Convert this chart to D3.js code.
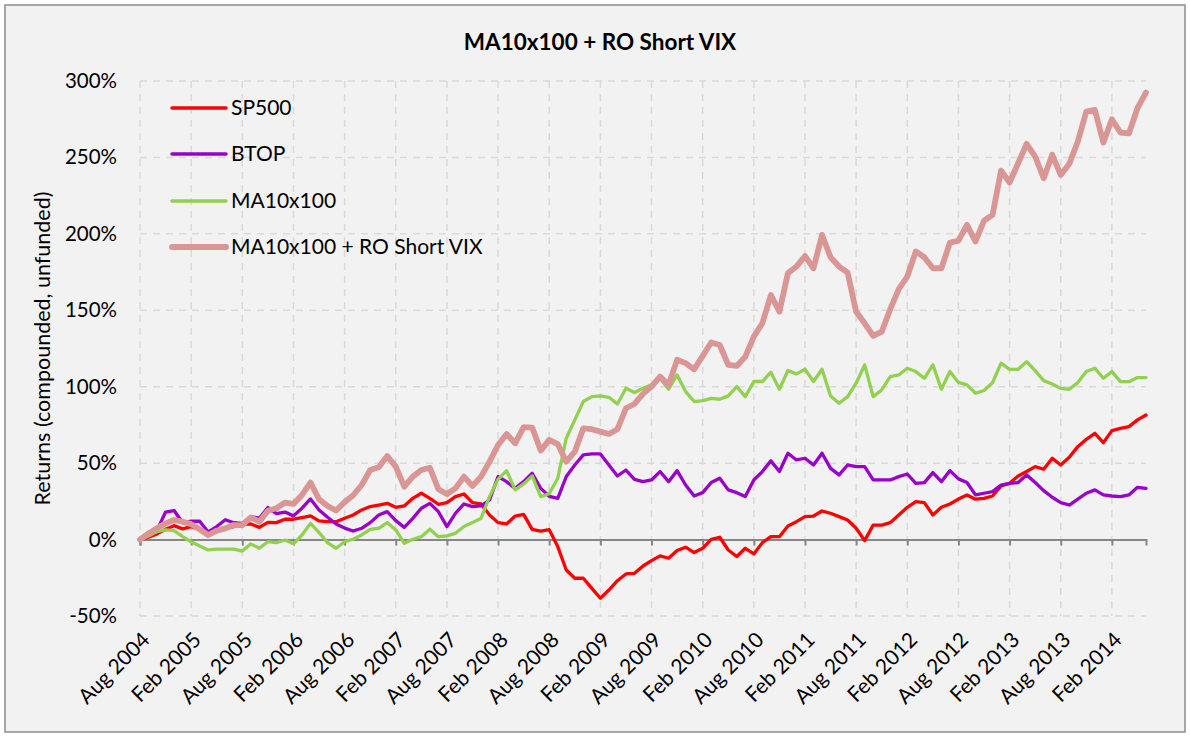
<!DOCTYPE html>
<html>
<head>
<meta charset="utf-8">
<script src="https://cdn.jsdelivr.net/npm/d3@7"></script>
<style>
  html, body { margin: 0; padding: 0; background: #ffffff; }
  svg { display: block; }
  text { font-family: Lato, "Open Sans", "DejaVu Sans", sans-serif; fill: #000; }
</style>
</head>
<body>
<svg id="chart" width="1190" height="736"></svg>
<script>
// ---------- DATA ----------
const startMonth = new Date(2004, 7, 1);   // Aug 2004
const endMonth = new Date(2014, 6, 1);     // exclusive -> last = Jun 2014
const categories = d3.timeMonth.range(startMonth, endMonth).map(d3.timeFormat("%b %Y"));

const tickLabels = ["Aug 2004","Feb 2005","Aug 2005","Feb 2006","Aug 2006","Feb 2007",
  "Aug 2007","Feb 2008","Aug 2008","Feb 2009","Aug 2009","Feb 2010","Aug 2010",
  "Feb 2011","Aug 2011","Feb 2012","Aug 2012","Feb 2013","Aug 2013","Feb 2014"];

const yTicks = [-50, 0, 50, 100, 150, 200, 250, 300];

const sp500 = [0,1.5,3.7,6.7,9.1,7,8.5,6.7,4,6.3,7.3,8.5,10.2,10.2,8,11.3,11.1,13.3,13.3,14.4,
  15.5,12.2,11.7,11.7,14,16.1,19.4,21.6,22.6,23.7,21.1,22,27,30.3,27,23.1,24.2,28.1,29.8,24.2,
  23.3,16.1,11.1,10.2,15.4,16.5,6.7,5.6,6.5,-4.6,-19.9,-25.3,-25.3,-31.9,-38.4,-33,-26.9,-22.5,-22.1,-17.3,
  -13.8,-10.7,-12.2,-7.2,-5,-8.5,-5.7,0.2,1.5,-6.8,-11.1,-5.7,-9.4,-2,1.9,1.9,8.9,11.7,15,15.4,
  18.7,17.2,15,12.8,7.4,-0.7,9.5,9.5,11.1,16.1,21.1,24.8,24.2,16.1,21.1,23.3,26.5,29.2,26.4,27,
  28.5,35.1,36.8,41.6,44.5,47.7,46,53.2,48.8,53.8,60.8,65.6,69.5,63.4,71.3,72.8,73.9,78.3,81.5];

const btop = [0,3,6,18,19,11,12,12,5,8.5,13,11,10.6,15,14,21,17,18,15.5,20.5,
  26.6,19.4,14.6,10.2,7.5,5.6,7.4,11.1,16.1,18.3,12.4,8,13.9,20.5,23.7,18.3,8.5,17.2,23.3,21.6,
  22,25.9,41.2,37.9,33.5,37.9,43.4,33.5,28.3,27,41.2,48.8,55.4,56,56,48.8,41.6,45.5,39.4,37.9,
  39,44.5,37.9,45.1,35.7,28.5,30.7,37.3,40.1,32.5,30.7,28.1,39,44.5,51.5,44.5,56.5,52.1,53.2,48.8,
  56.5,46.6,42.3,48.8,47.7,47.7,39,39,39,41.2,42.9,36.8,37.3,43.8,37.9,45.1,39.7,37.3,29.2,30.3,
  31.4,35.7,36.8,37.3,42.3,37.3,32,27.7,24.2,22.6,26.4,30.3,32.5,29.2,28.5,28.1,29.2,34.2,33.5];

const ma10x100 = [0,2.4,5.2,6.3,5.9,1.9,-1.4,-4.2,-6.8,-6.2,-6.2,-6.2,-7.5,-2.8,-5.7,-1.4,-2,-0.3,-2.8,3,
  10.6,4.6,-2,-5.7,-1.4,0.2,3,6.7,7.4,11.1,6.3,-2.4,0.2,1.9,6.7,1.9,2.4,4.1,8.5,11.1,
  13.9,28.1,39.4,45.1,32.5,36.4,41.6,28.1,30,40.1,66.3,78.3,90.3,93.5,94,93.1,88.7,99,96.2,99,
  101.2,105.5,98.4,107.7,96.8,90.3,90.9,92.4,91.8,94,100.1,93.5,103.4,103.4,109.5,98.3,110.6,108.4,111.4,103.4,
  111.4,94,89.2,93.5,102.3,114.3,93.5,97.9,106.6,107.7,112.1,109.9,105.5,114.3,98.3,109.9,102.8,101.2,95.7,97.5,
  102.7,115.4,111.4,111.4,116.4,110.5,104,101.8,98.9,98.3,102.7,109.9,112.1,105.5,109.9,103.3,103.3,106,106];

const maShortVix = [0,4,7.5,10.6,12.8,11.7,10.1,6.7,3,5.8,7.3,9.5,9.5,14.5,11.7,18.9,20.5,24.2,23.3,29.2,
  37.3,26.4,22,19,24.5,29,35.7,45.5,47.3,54.7,47.7,34.6,41.2,45.5,47,32.9,29.8,33.5,41.2,35.1,
  41.2,51,61.9,69.1,63,73.5,73.3,58.2,65.2,62.5,51,57.5,72.8,72.2,70.6,69.1,72.2,85.9,88.7,95.3,
  100.1,106.6,101.2,117.6,115.4,111.4,120.2,128.9,127.3,114.3,113.6,119.7,132.8,141.5,160,149.1,174.3,178.6,185.5,177.5,
  199.3,184.7,178.6,174.7,149.2,141.5,133.2,136,150.7,163.8,172.1,188.5,184.7,177.5,177.5,194.3,195.5,205.9,195,208.7,
  212.4,241.4,233.6,246.2,258.9,250.6,236.4,251.7,238.6,245.8,260.4,280,281.1,259.7,275,266.3,265.8,282.2,292.5];

const seriesNames = ["SP500", "BTOP", "MA10x100", "MA10x100 + RO Short VIX"];
const seriesValues = [sp500, btop, ma10x100, maShortVix];
const seriesColors = ["#ff0000", "#9900cc", "#92d050", "#da9694"];
const seriesWidths = [3.3, 3.3, 3.3, 5.8];

// ---------- LAYOUT ----------
const svg = d3.select("#chart");
const W = 1190, H = 736;
const plot = { left: 140, right: 1146, top: 81, bottom: 616 };

svg.append("rect").attr("x", 5).attr("y", 5).attr("width", W - 10).attr("height", H - 9)
  .attr("fill", "#f2f2f2").attr("stroke", "#8c8c8c").attr("stroke-width", 1.5);

const x = d3.scalePoint().domain(categories).range([plot.left, plot.right]);
const y = d3.scaleLinear().domain([-50, 300]).range([plot.bottom, plot.top]);

// Gridlines
const grid = svg.append("g");
grid.selectAll("line.h").data(yTicks.filter(v => v !== 0)).join("line")
  .attr("x1", plot.left).attr("x2", plot.right)
  .attr("y1", d => y(d)).attr("y2", d => y(d))
  .attr("stroke", "#d9d9d9").attr("stroke-width", 1.5).attr("stroke-dasharray", "7,6");
grid.selectAll("line.v").data(tickLabels).join("line")
  .attr("x1", d => x(d)).attr("x2", d => x(d))
  .attr("y1", plot.top).attr("y2", plot.bottom)
  .attr("stroke", "#d9d9d9").attr("stroke-width", 1.5).attr("stroke-dasharray", "7,6");

// Y axis labels
const yAxis = d3.axisLeft(y).tickValues(yTicks).tickFormat(d => d + "%").tickSize(0).tickPadding(0);
const gy = svg.append("g").attr("transform", `translate(${117},0)`).call(yAxis);
gy.select(".domain").remove();
gy.selectAll("text").attr("font-size", 20.5).attr("font-family", "Lato").attr("fill", "#000");

// X axis at zero
const xAxis = d3.axisBottom(x).tickValues(tickLabels).tickSize(6).tickFormat("");
const gx = svg.append("g").attr("transform", `translate(0,${y(0)})`).call(xAxis);
gx.select(".domain").attr("stroke", "#868686").attr("stroke-width", 2);
gx.selectAll(".tick line").attr("stroke", "#868686").attr("stroke-width", 2);

// X tick labels (rotated)
svg.append("g").selectAll("text").data(tickLabels).join("text")
  .attr("transform", d => `translate(${x(d) + 6},${636}) rotate(-45)`)
  .attr("text-anchor", "end").attr("dy", "0.35em")
  .attr("font-size", 21).text(d => d);

// Lines
const line = d3.line().x((d, i) => x(categories[i])).y(d => y(d));
svg.append("g").selectAll("path").data(seriesValues).join("path")
  .attr("d", d => line(d))
  .attr("fill", "none")
  .attr("stroke", (d, i) => seriesColors[i])
  .attr("stroke-width", (d, i) => seriesWidths[i])
  .attr("stroke-linejoin", "round").attr("stroke-linecap", "round");

// Legend
const legendY = [108, 154, 201, 247];
const lg = svg.append("g");
seriesNames.forEach((name, i) => {
  lg.append("line").attr("x1", 172).attr("x2", 226).attr("y1", legendY[i]).attr("y2", legendY[i])
    .attr("stroke", seriesColors[i]).attr("stroke-width", i === 3 ? 5.8 : 3.5).attr("stroke-linecap", "round");
  lg.append("text").attr("x", 231).attr("y", legendY[i]).attr("dy", "0.35em")
    .attr("font-size", 21).text(name);
});

// Title
svg.append("text").attr("x", 600).attr("y", 42).attr("text-anchor", "middle").attr("dy", "0.35em")
  .attr("font-size", 22.5).attr("font-weight", "bold").text("MA10x100 + RO Short VIX");

// Y axis title
svg.append("text").attr("transform", `translate(42,${(plot.top + plot.bottom) / 2}) rotate(-90)`)
  .attr("text-anchor", "middle").attr("dy", "0.35em").attr("font-size", 21.5)
  .text("Returns (compounded, unfunded)");
</script>
</body>
</html>
